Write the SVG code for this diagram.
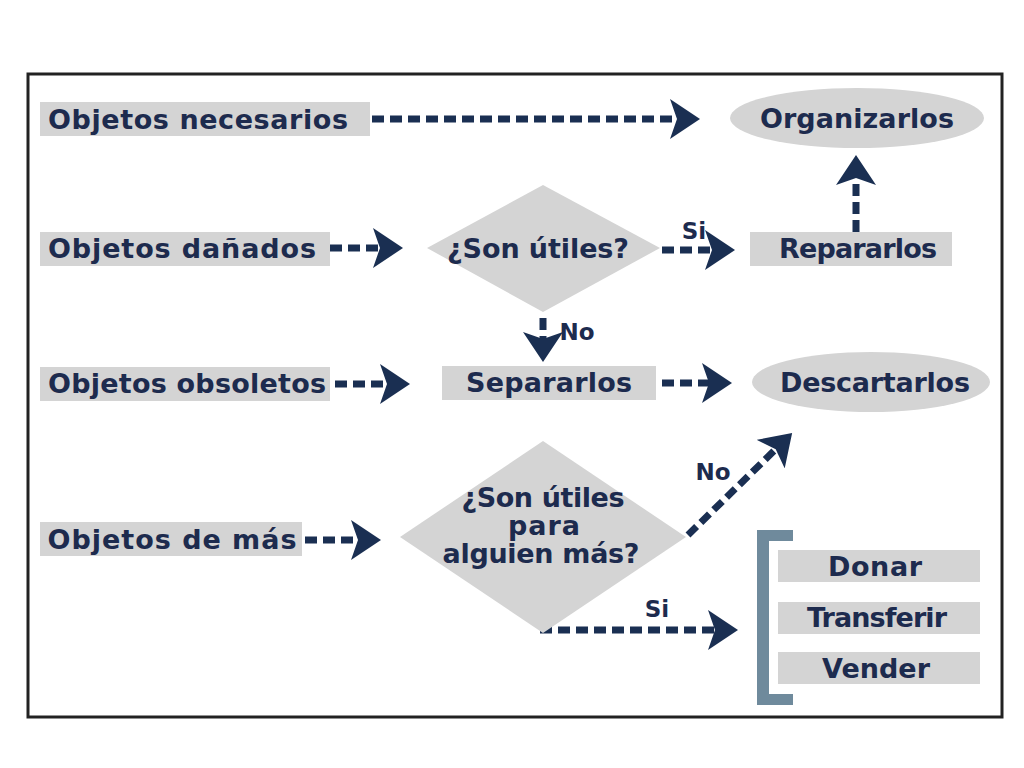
<svg xmlns="http://www.w3.org/2000/svg" width="1024" height="768" viewBox="0 0 1024 768">
<style>
.box{fill:#d4d4d4}
.t{font-family:"DejaVu Sans",sans-serif;font-weight:bold;font-size:27px;fill:#1d2b4e;text-anchor:middle}
.lbl{font-family:"DejaVu Sans",sans-serif;font-weight:bold;font-size:23px;fill:#1d2b4e;text-anchor:middle}
.c{fill:none;stroke:#1a2f52;stroke-width:7;stroke-dasharray:12 6;marker-end:url(#ah)}
</style>
<defs>
<marker id="ah" markerUnits="userSpaceOnUse" viewBox="0 0 30 40" refX="13" refY="20" markerWidth="30" markerHeight="40" orient="auto">
<path d="M0,0 L30,20 L0,40 L7,20 z" fill="#1a2f52"/>
</marker>
</defs>
<rect x="0" y="0" width="1024" height="768" fill="#ffffff"/>
<rect x="28" y="74" width="974" height="643" fill="#ffffff" stroke="#222222" stroke-width="3"/>

<g id="connectors">
<line class="c" x1="372" y1="119" x2="683" y2="119"/>
<line class="c" x1="330" y1="248" x2="386" y2="248"/>
<line class="c" x1="662" y1="250" x2="718" y2="250"/>
<line class="c" x1="856" y1="232" x2="856" y2="172"/>
<line class="c" x1="543" y1="318" x2="543" y2="345"/>
<line class="c" x1="335" y1="384" x2="393" y2="384"/>
<line class="c" x1="662" y1="383" x2="715" y2="383"/>
<line class="c" x1="305" y1="540" x2="364" y2="540"/>
<line class="c" x1="688" y1="535" x2="780" y2="445"/>
<line class="c" x1="540" y1="630" x2="721" y2="630"/>
<text class="lbl" x="694" y="239">Si</text>
<text class="lbl" x="577" y="340">No</text>
<text class="lbl" x="713" y="480">No</text>
<text class="lbl" x="657" y="617">Si</text>
</g>

<g id="n-necesarios">
<rect class="box" x="40" y="102" width="330" height="34"/>
<text class="t" x="198" y="129" textLength="300">Objetos necesarios</text>
</g>
<g id="n-organizarlos">
<ellipse class="box" cx="857" cy="118" rx="127" ry="30"/>
<text class="t" x="857" y="128" textLength="194">Organizarlos</text>
</g>
<g id="n-danados">
<rect class="box" x="40" y="232" width="290" height="34"/>
<text class="t" x="182" y="258" textLength="268">Objetos dañados</text>
</g>
<g id="n-utiles1">
<polygon class="box" points="427,248 543,185 660,248 543,312"/>
<text class="t" x="538" y="258" textLength="182">¿Son útiles?</text>
</g>
<g id="n-repararlos">
<rect class="box" x="750" y="232" width="202" height="34"/>
<text class="t" x="858" y="258" textLength="158">Repararlos</text>
</g>
<g id="n-obsoletos">
<rect class="box" x="40" y="367" width="290" height="34"/>
<text class="t" x="187" y="393" textLength="278">Objetos obsoletos</text>
</g>
<g id="n-separarlos">
<rect class="box" x="442" y="366" width="214" height="34"/>
<text class="t" x="549" y="392" textLength="166">Separarlos</text>
</g>
<g id="n-descartarlos">
<ellipse class="box" cx="871" cy="382" rx="119" ry="30"/>
<text class="t" x="875" y="392" textLength="190">Descartarlos</text>
</g>
<g id="n-demas">
<rect class="box" x="40" y="522" width="262" height="34"/>
<text class="t" x="172" y="549" textLength="249">Objetos de más</text>
</g>
<g id="n-utiles2">
<polygon class="box" points="400,537 543,441 686,537 543,633"/>
<text class="t" x="543" y="507" textLength="163">¿Son útiles</text>
<text class="t" x="544" y="535" textLength="72">para</text>
<text class="t" x="541" y="563" textLength="197">alguien más?</text>
</g>
<g id="n-bracket">
<path d="M793,530 L757,530 L757,705 L793,705 L793,694 L769,694 L769,541 L793,541 z" fill="#6f8a9c"/>
</g>
<g id="n-donar">
<rect class="box" x="778" y="550" width="202" height="32"/>
<text class="t" x="875" y="576" textLength="94">Donar</text>
</g>
<g id="n-transferir">
<rect class="box" x="778" y="602" width="202" height="32"/>
<text class="t" x="877" y="627" textLength="140">Transferir</text>
</g>
<g id="n-vender">
<rect class="box" x="778" y="652" width="202" height="32"/>
<text class="t" x="876" y="678" textLength="108">Vender</text>
</g>
</svg>
